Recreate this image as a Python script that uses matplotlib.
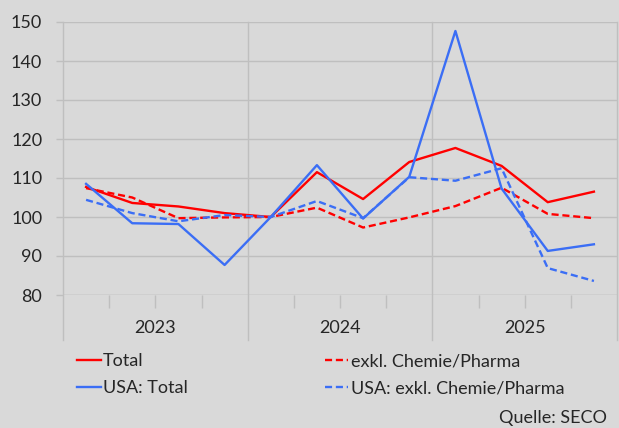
import matplotlib
matplotlib.use("Agg")
import matplotlib.pyplot as plt
import matplotlib.transforms as mtransforms
import numpy as np

plt.rcParams["font.family"] = ["Lato", "DejaVu Sans"]

# =========================
# data (quarterly index)
# =========================
years = ["2023", "2024", "2025"]
total = [107.7, 103.6, 102.7, 101.0, 100.0, 111.5, 104.6, 114.1, 117.7, 113.1, 103.8, 106.5]
excl_chem = [107.4, 105.0, 99.7, 99.9, 100.0, 102.4, 97.3, 99.9, 102.8, 107.5, 100.8, 99.7]
usa_total = [108.5, 98.4, 98.2, 87.7, 100.0, 113.3, 99.6, 110.3, 147.7, 107.3, 91.3, 93.0]
usa_excl = [104.4, 101.0, 98.9, 100.5, 100.0, 104.1, 99.7, 110.2, 109.3, 112.5, 86.9, 83.6]

labels = ["Total", "exkl. Chemie/Pharma", "USA: Total", "USA: exkl. Chemie/Pharma"]

bg = "#d9d9d9"
grid_c = "#bfbfbf"
txt_c = "#262626"
red = "#ff0000"
blue = "#3b6ef5"
fs = 13

fig = plt.figure(figsize=(6.19, 4.28), dpi=100, facecolor=bg)
ax = fig.add_axes([63 / 619, (428 - 295) / 428, (617 - 63) / 619, (295 - 22) / 428])
ax.set_facecolor(bg)

n = len(total)
x = np.arange(n) + 0.5

l1, = ax.plot(x, total, color=red, lw=1.7, label=labels[0])
l2, = ax.plot(x, excl_chem, color=red, lw=1.7, dashes=(3, 1.6), label=labels[1])
l3, = ax.plot(x, usa_total, color=blue, lw=1.7, label=labels[2])
l4, = ax.plot(x, usa_excl, color=blue, lw=1.7, dashes=(3, 1.6), label=labels[3])

ax.set_xlim(0, n)
ax.set_ylim(80, 150)
ax.set_yticks(np.arange(80, 151, 10))

for s in ax.spines.values():
    s.set_visible(False)

ax.grid(axis="y", color=grid_c, lw=1.0)
ax.set_axisbelow(True)
ax.tick_params(axis="y", length=5, width=1.0, color=grid_c, labelsize=fs,
               labelcolor=txt_c, pad=10)

# year separators run from top down below the axis
trans = mtransforms.blended_transform_factory(ax.transData, ax.transAxes)
depth = (340 - 295) / (295 - 22)
for b in [0, 4, 8, 12]:
    ax.plot([b, b], [-depth, 1], color=grid_c, lw=1.0, transform=trans,
            clip_on=False, zorder=0)
# quarter ticks
ax.set_xticks([q for q in range(1, n) if q % 4 != 0])
ax.set_xticklabels([])
ax.tick_params(axis="x", length=9, width=1.0, color=grid_c, direction="out")
ax.axhline(80, color=grid_c, lw=1.0, zorder=0)

for i, yr in enumerate(years):
    ax.text(4 * i + 2, -(328 - 295) / (295 - 22), yr, transform=trans,
            ha="center", va="center", fontsize=fs, color=txt_c)

fig.legend([l1, l3, l2, l4], [labels[0], labels[2], labels[1], labels[3]],
           loc="upper left", bbox_to_anchor=(70 / 619, 1 - 346 / 428), ncol=2,
           frameon=False, fontsize=fs, handlelength=1.3, handletextpad=0.12,
           columnspacing=7.6, labelspacing=0.6, labelcolor=txt_c, borderaxespad=0)

fig.text(607 / 619, 1 - 418 / 428, "Quelle: SECO", ha="right", va="center",
         fontsize=fs, color=txt_c)

fig.savefig("out.png", dpi=100, facecolor=bg)
